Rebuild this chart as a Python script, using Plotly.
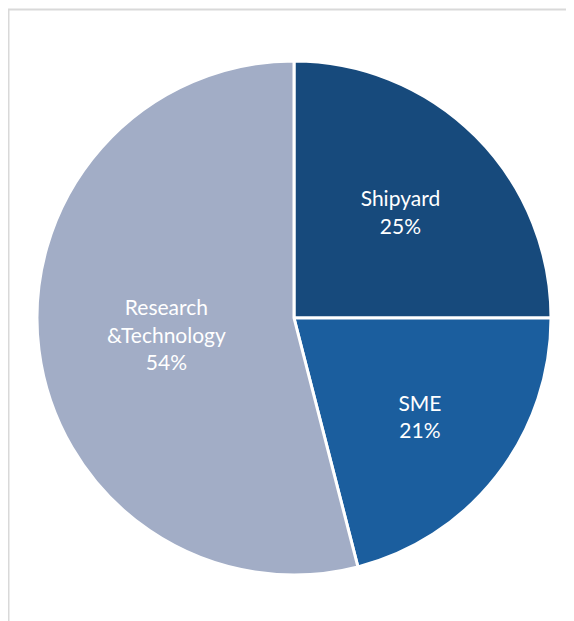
import plotly.graph_objects as go

# Share of participants by category
labels = ["Shipyard", "SME", "Research<br>&Technology"]
values = [25, 21, 54]
colors = ["#174A7C", "#1B5E9E", "#A2ADC6"]

fig = go.Figure(
    go.Pie(
        labels=labels,
        values=values,
        sort=False,
        direction="clockwise",
        rotation=0,
        marker=dict(colors=colors, line=dict(color="white", width=3)),
        textinfo="label+percent",
        textposition="inside",
        insidetextorientation="horizontal",
        insidetextfont=dict(color="white", size=21, family="Lato"),
        hoverinfo="label+percent",
        showlegend=False,
    )
)

# page has an 8px body margin, so figure pixel = page pixel - 8
l, r, t, b = 29, 31, 53, 54
w = 574 - l - r
h = 621 - t - b
# light grey frame (only top and left edge are visible in the crop)
fig.add_shape(
    type="rect", xref="paper", yref="paper",
    x0=(0.5 - l) / w, x1=(700 - l) / w,
    y0=-(800 - 621 + b) / h, y1=(621 - b - 1.5) / h,
    line=dict(color="#D9D9D9", width=2),
    fillcolor="rgba(0,0,0,0)", layer="below",
)

fig.update_layout(
    width=574, height=621,
    margin=dict(l=l, r=r, t=t, b=b),
    paper_bgcolor="white",
    plot_bgcolor="white",
)

fig.write_html("out.html")
